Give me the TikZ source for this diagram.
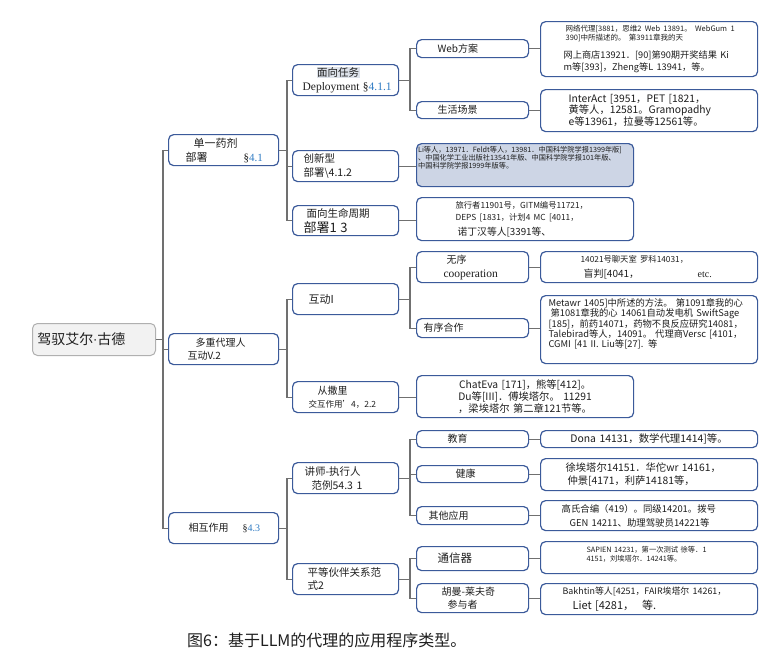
\documentclass[tikz,border=0pt]{standalone}
\usepackage{fontspec}
\setmainfont{Noto Sans CJK SC}
\newfontfamily\seriffont{Liberation Serif}
\newfontfamily\dotfont{DejaVu Sans}
\definecolor{boxblue}{HTML}{3B5A9A}
\definecolor{linegray}{HTML}{707070}
\definecolor{txt}{HTML}{1E1E1E}
\definecolor{hlfill}{HTML}{DDE2EA}
\definecolor{leaffill}{HTML}{CDD5E5}
\definecolor{secblue}{HTML}{2E7BC4}
\definecolor{rootfill}{HTML}{F2F2F2}
\definecolor{rootgray}{HTML}{B0B0B0}
\newcommand\fs[2]{\fontsize{#1pt}{#2pt}\selectfont}
\newcommand\oneline[1]{\mbox{#1}}
\begin{document}
\begin{tikzpicture}[x=1pt,y=-1pt,
  bx/.style={draw=boxblue, line width=1.2pt, rounded corners=5pt, fill=white, anchor=north west, inner xsep=5pt, inner ysep=0pt, align=left, text=txt},
  conn/.style={draw=linegray, line width=1.1pt}]
\useasboundingbox[fill=white] (0,0) rectangle (780,667);

% root
\node[bx, draw=rootgray, fill=rootfill, line width=1pt, text width=113pt, minimum height=32pt, font=\fs{14}{15}] (root) at (32,323) {\raisebox{-4pt}{驾驭艾尔{\dotfont\fontsize{12pt}{13pt}\selectfont ·}古德}};

% level 1
\node[bx, text width=100pt, minimum height=31pt, font=\fs{11}{14}] (l1a) at (168,134)
  {\hspace*{20pt}单一药剂\\\hspace*{12pt}部署\hspace{36pt}{\seriffont §\textcolor{secblue}{4.1}}};
\node[bx, text width=100pt, minimum height=31pt, font=\fs{10}{13}] (l1b) at (168,333)
  {\hspace*{22pt}多重代理人\\\hspace*{14pt}互动V.2};
\node[bx, text width=100pt, minimum height=31pt, font=\fs{10}{13}] (l1c) at (168,512)
  {\raisebox{-5pt}{\hspace*{15pt}相互作用\hspace{14pt}{\seriffont §\textcolor{secblue}{4.3}}}};

% level 2
\node[bx, text width=96pt, minimum height=31pt, font=\fs{10.5}{14}] (l2a) at (292,64)
  {\hspace*{19pt}{\setlength\fboxsep{0.5pt}\colorbox{hlfill}{面向任务}}\\\hspace*{5pt}{\seriffont\fontsize{11.5pt}{13pt}\selectfont Deployment §\textcolor{secblue}{4.1.1}}};
\node[bx, text width=96pt, minimum height=31pt, font=\fs{10.5}{14}] (l2b) at (292,150)
  {\hspace*{6pt}创新型\\\hspace*{6pt}部署\textbackslash 4.1.2};
\node[bx, text width=96pt, minimum height=30pt, font=\fs{10.5}{15}] (l2c) at (292,205)
  {\hspace*{9pt}面向生命周期\\\hspace*{6pt}{\fs{13}{15}部署1 3}};
\node[bx, text width=96pt, minimum height=31pt, font=\fs{11}{13}] (l2d) at (292,283)
  {\raisebox{-3pt}{\hspace*{11pt}互动I}};
\node[bx, text width=96pt, minimum height=31pt, font=\fs{10}{13.5}] (l2e) at (292,381)
  {\hspace*{20pt}从撒里\\\hspace*{11pt}{\fs{8.5}{10}交互作用'4，2.2}};
\node[bx, text width=96pt, minimum height=31pt, font=\fs{10.5}{14}] (l2f) at (292,462)
  {\hspace*{7pt}讲师-执行人\\\hspace*{14pt}范例54.3 1};
\node[bx, text width=96pt, minimum height=31pt, font=\fs{10.5}{13}] (l2g) at (292,563)
  {\hspace*{10pt}平等伙伴关系范\\\hspace*{10pt}式2};

% level 3
\node[bx, text width=102pt, minimum height=18pt, font=\fs{10}{12}] (l3a) at (416,39) {\hspace*{16pt}Web方案};
\node[bx, text width=102pt, minimum height=17pt, font=\fs{10}{12}] (l3b) at (416,101) {\hspace*{16pt}生活场景};
\node[bx, text width=102pt, minimum height=31pt, font=\fs{10}{14}] (l3c) at (416,251)
  {\hspace*{25pt}无序\\\hspace*{22pt}{\seriffont\fontsize{11.5pt}{13pt}\selectfont cooperation}};
\node[bx, text width=102pt, minimum height=19pt, font=\fs{10}{12}] (l3d) at (416,318) {\hspace*{2pt}有序合作};
\node[bx, text width=102pt, minimum height=17pt, font=\fs{10}{12}] (l3e) at (416,430) {\hspace*{26pt}教育};
\node[bx, text width=102pt, minimum height=17pt, font=\fs{10}{12}] (l3f) at (416,465) {\hspace*{34pt}健康};
\node[bx, text width=102pt, minimum height=18pt, font=\fs{10}{12}] (l3g) at (416,506) {\hspace*{7pt}其他应用};
\node[bx, text width=102pt, minimum height=24pt, font=\fs{11.5}{13}] (l3h) at (416,546) {\hspace*{16pt}通信器};
\node[bx, text width=102pt, minimum height=29pt, font=\fs{10}{13}] (l3i) at (416,583)
  {\hspace*{20pt}胡曼-莱夫奇\\\hspace*{26pt}参与者};

% leaves
\node[bx, text width=207pt, minimum height=55pt] (lf1) at (540,21)
  {{\fs{7.5}{7.5}\oneline{\hspace*{20pt}网络代理[3881，思维2 Web 13891。 WebGum 1}\\\oneline{\hspace*{20pt}390]中所描述的。 第3911章我的天}\par}\vspace{6pt}%
   {\fs{9.2}{12}\oneline{\hspace*{18pt}网上商店13921．[90]第90期开奖结果 Ki}\\\oneline{\hspace*{18pt}m等[393]，Zheng等L 13941，等。}\par}};
\node[bx, text width=207pt, minimum height=42pt, font=\fs{10.3}{10.6}] (lf2) at (540,89)
  {\oneline{\hspace*{23pt}InterAct [3951，PET [1821，}\\\oneline{\hspace*{23pt}黄等人，12581。Gramopadhy}\\\oneline{\hspace*{23pt}e等13961，拉曼等12561等。}};
\node[bx, fill=leaffill, inner xsep=1.5pt, text width=214pt, minimum height=43pt, font=\fs{7.2}{8}] (lf3) at (416,143)
  {\oneline{Li等人，13971．Feldt等人，13981．中国科学院学报1399年版]}\\\oneline{、中国化学工业出版社13541年版、中国科学院学报101年版、}\\\oneline{中国科学院学报1999年版等。}\par\vspace*{14pt}};
\node[bx, text width=207pt, minimum height=43pt] (lf4) at (416,197)
  {{\fs{8.3}{12}\oneline{\hspace*{34pt}旅行者11901号，GITM编号11721，}\\\oneline{\hspace*{34pt}DEPS [1831，计划4 MC [4011，}\par}%
   {\fs{9.8}{15}\oneline{\hspace*{36pt}诺丁汉等人[3391等、}\par}};
\node[bx, text width=207pt, minimum height=31pt] (lf5) at (540,251)
  {{\fs{8.3}{9}\oneline{\hspace*{35pt}14021号聊天室 罗科14031，}\par}%
   {\fs{10}{15}\oneline{\hspace*{38pt}\makebox[114pt][l]{盲判[4041，}{\seriffont etc.}}\par}};
\node[bx, text width=207pt, minimum height=68pt, font=\fs{9.3}{10.3}] (lf6) at (540,295)
  {\oneline{\hspace*{3pt}Metawr 1405]中所述的方法。 第1091章我的心}\\\oneline{\hspace*{5pt}第1081章我的心 14061自动发电机 SwiftSage}\\\oneline{\hspace*{3pt}[185]，前药14071，药物不良反应研究14081，}\\\oneline{\hspace*{3pt}Talebirad等人，14091。 代理商Versc [4101，}\\\oneline{\hspace*{3pt}CGMI [41 II. Liu等[27]. 等}\par\vspace*{11pt}};
\node[bx, text width=207pt, minimum height=42pt, align=center, font=\fs{10.3}{12}] (lf7) at (416,375)
  {ChatEva [171]，熊等[412]。\\Du等[III]．傅埃塔尔。 11291\\，梁埃塔尔 第二章121节等。};
\node[bx, text width=207pt, minimum height=17pt, align=center, font=\fs{10.4}{11}] (lf8) at (540,430)
  {Dona 14131，数学代理1414]等。};
\node[bx, text width=207pt, minimum height=32pt, font=\fs{10.3}{13}] (lf9) at (540,458)
  {\oneline{\hspace*{20pt}徐埃塔尔14151．华佗wr 14161，}\\\oneline{\hspace*{22pt}仲景[4171，利萨14181等，}};
\node[bx, text width=207pt, minimum height=30pt, font=\fs{9.4}{14}] (lf10) at (540,500)
  {\oneline{\hspace*{16pt}高氏合编（419）。同级14201。拨号}\\\oneline{\hspace*{24pt}GEN 14211、助理驾驶员14221等}};
\node[bx, text width=207pt, minimum height=32pt, font=\fs{7.3}{8.5}] (lf11) at (540,541)
  {\oneline{\hspace*{41pt}SAPIEN 14231，第一次测试 徐等．1}\\\oneline{\hspace*{41pt}4151，刘埃塔尔．14241等。}\par\vspace*{7pt}};
\node[bx, text width=207pt, minimum height=31pt] (lf12) at (540,583)
  {{\fs{8.9}{10}\oneline{\hspace*{17pt}Bakhtin等人[4251，FAIR埃塔尔 14261，}\par}%
   {\fs{11}{15}\oneline{\hspace*{27pt}Liet [4281，\hspace{8pt}等.}\par}};

% caption
\node[anchor=west, inner sep=0pt, text=txt, font=\fs{16}{18}] (cap) at (187,640) {图6：基于LLM的代理的应用程序类型。};

% bus coordinates
\coordinate (b0) at (163,0);
\coordinate (b1) at (287,0);
\coordinate (b2) at (410,0);

% connectors
\foreach \c in {l1a,l1b,l1c} \draw[conn] (root.east) -- (root.east -| b0) |- (\c.west);
\foreach \c in {l2a,l2b,l2c} \draw[conn] (l1a.east) -- (l1a.east -| b1) |- (\c.west);
\foreach \c in {l2d,l2e} \draw[conn] (l1b.east) -- (l1b.east -| b1) |- (\c.west);
\foreach \c in {l2f,l2g} \draw[conn] (l1c.east) -- (l1c.east -| b1) |- (\c.west);
\foreach \c in {l3a,l3b} \draw[conn] (l2a.east) -- (l2a.east -| b2) |- (\c.west);
\foreach \c in {l3c,l3d} \draw[conn] (l2d.east) -- (l2d.east -| b2) |- (\c.west);
\foreach \c in {l3e,l3f,l3g} \draw[conn] (l2f.east) -- (l2f.east -| b2) |- (\c.west);
\foreach \c in {l3h,l3i} \draw[conn] (l2g.east) -- (l2g.east -| b2) |- (\c.west);
\draw[conn] (l2b.east) -- (l2b.east -| lf3.west);
\draw[conn] (l2c.east) -- (l2c.east -| lf4.west);
\draw[conn] (l2e.east) -- (l2e.east -| lf7.west);
\draw[conn] (l3a.east) -- (l3a.east -| lf1.west);
\draw[conn] (l3b.east) -- (l3b.east -| lf2.west);
\draw[conn] (l3c.east) -- (l3c.east -| lf5.west);
\draw[conn] (l3d.east) -- (l3d.east -| lf6.west);
\draw[conn] (l3e.east) -- (l3e.east -| lf8.west);
\draw[conn] (l3f.east) -- (l3f.east -| lf9.west);
\draw[conn] (l3g.east) -- (l3g.east -| lf10.west);
\draw[conn] (l3h.east) -- (l3h.east -| lf11.west);
\draw[conn] (l3i.east) -- (l3i.east -| lf12.west);
\end{tikzpicture}
\end{document}
